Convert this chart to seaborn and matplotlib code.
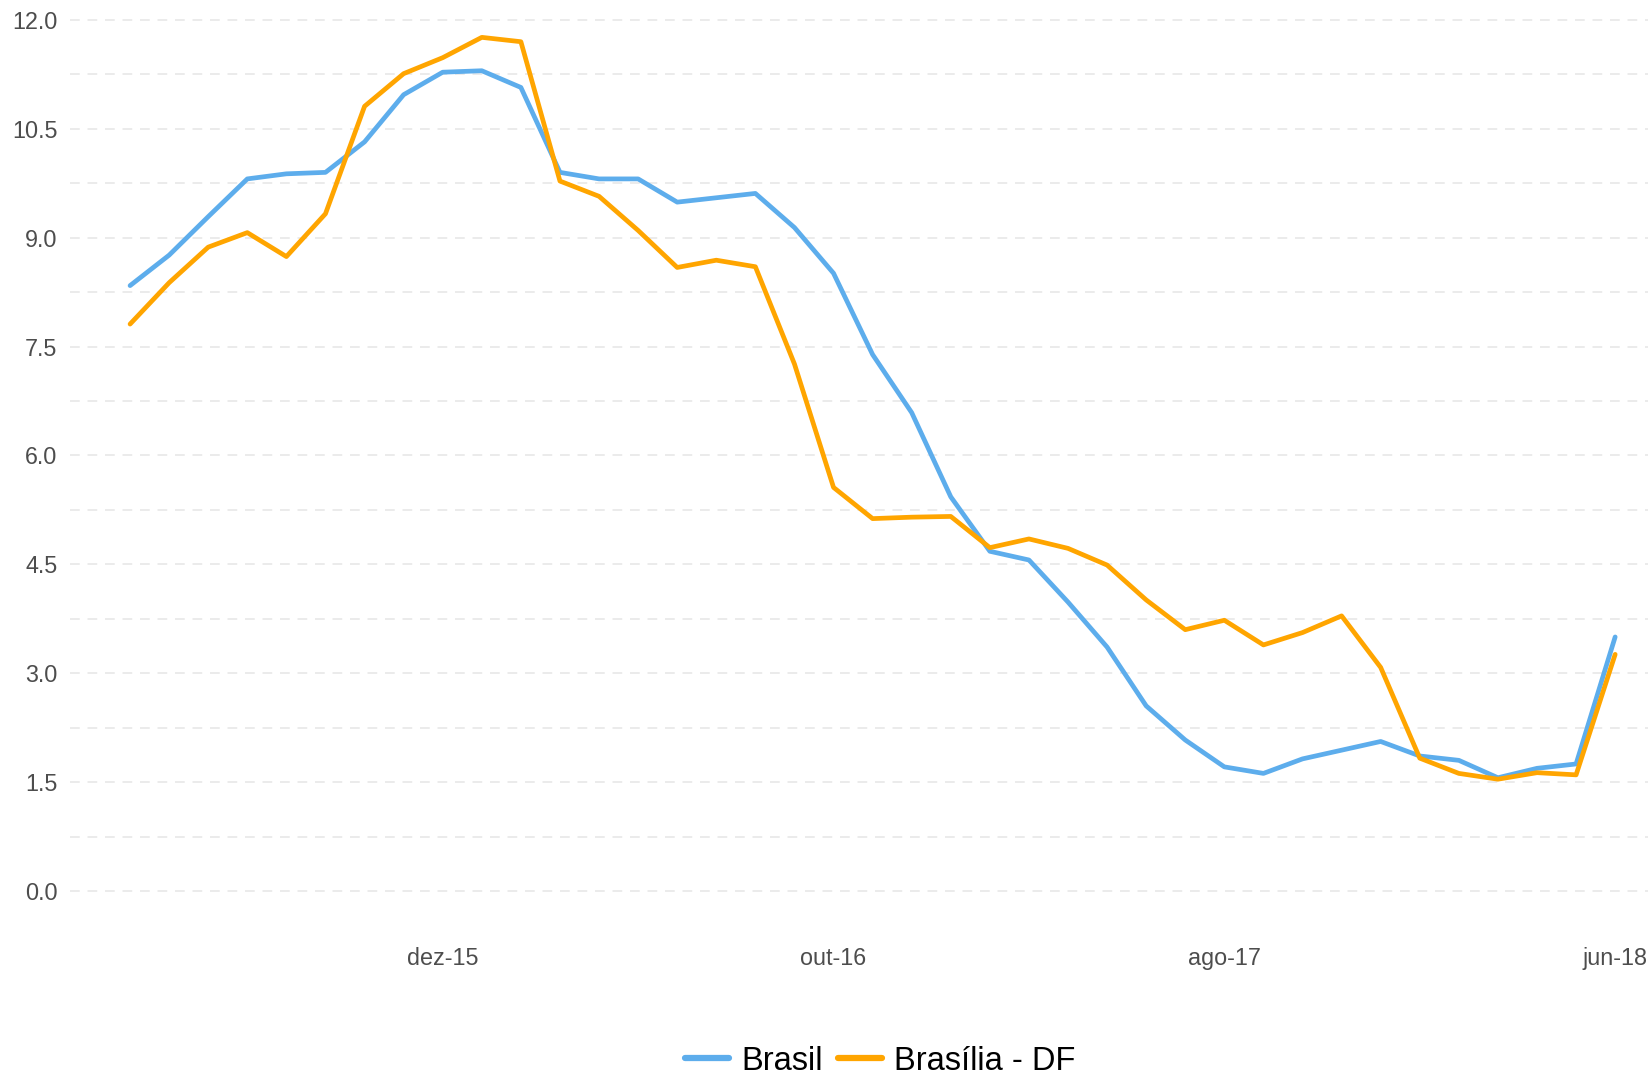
# Taxa acumulada: Brasil x Brasília - DF (abr-15 a jun-18)

import pandas as pd
import seaborn as sns
import matplotlib.pyplot as plt

#%% dados

meses = pd.date_range("2015-04-01", "2018-06-01", freq="MS").strftime("%Y-%m").tolist()

brasil = [8.34, 8.76, 9.29, 9.81, 9.88, 9.90, 10.32, 10.97, 11.28, 11.30,
          11.07, 9.90, 9.81, 9.81, 9.49, 9.55, 9.61, 9.14, 8.51, 7.39,
          6.59, 5.43, 4.68, 4.56, 3.98, 3.36, 2.55, 2.08, 1.71, 1.62,
          1.82, 1.94, 2.06, 1.86, 1.80, 1.56, 1.69, 1.75, 3.50]

brasilia_df = [7.81, 8.38, 8.87, 9.07, 8.74, 9.33, 10.81, 11.26, 11.48, 11.76,
               11.70, 9.78, 9.57, 9.10, 8.59, 8.69, 8.60, 7.26, 5.56, 5.13,
               5.15, 5.16, 4.73, 4.85, 4.72, 4.49, 4.01, 3.60, 3.73, 3.39,
               3.56, 3.79, 3.08, 1.83, 1.62, 1.54, 1.63, 1.60, 3.26]

series = ["Brasil", "Brasília - DF"]
cores = {"Brasil": "#5DADEC", "Brasília - DF": "#FFA500"}

ticks_meses = ["2015-12", "2016-10", "2017-08", "2018-06"]
ticks_labels = ["dez-15", "out-16", "ago-17", "jun-18"]
yticks = [0.0, 1.5, 3.0, 4.5, 6.0, 7.5, 9.0, 10.5, 12.0]

#%% tabela longa

df = pd.DataFrame({"mes": meses, "Brasil": brasil, "Brasília - DF": brasilia_df})
df["pos"] = range(len(df))
df_long = df.melt(id_vars=["mes", "pos"], value_vars=series, var_name="serie", value_name="valor")

#%% gráfico

sns.set_style("white")
plt.rcParams["font.family"] = ["Liberation Sans", "DejaVu Sans"]

fig = plt.figure(figsize=(16.49, 10.74), dpi=100)
ax = fig.add_axes([0.0425, 0.1366, 0.9576, 0.8516])

sns.lineplot(data=df_long, x="pos", y="valor", hue="serie", hue_order=series,
             palette=cores, linewidth=3.4, ax=ax, legend=False)

ax.set_xlim(-1.535, 38.87)
ax.set_ylim(-0.5, 12.1)

# grade horizontal tracejada (principais e secundárias)
for v in [i * 0.75 for i in range(17)]:
    ax.axhline(v, color="#EBEBEB", linewidth=1.4, linestyle=(0, (5, 4)), zorder=0)

pos_ticks = [meses.index(m) for m in ticks_meses]
ax.set_xticks(pos_ticks)
ax.set_xticklabels(ticks_labels)
ax.set_yticks(yticks)
ax.set_yticklabels([f"{v:.1f}" for v in yticks])
ax.tick_params(axis="both", length=0, labelsize=16.8, labelcolor="#4D4D4D")
ax.tick_params(axis="x", pad=14)
ax.tick_params(axis="y", pad=9)
ax.set_xlabel("")
ax.set_ylabel("")
for s in ax.spines.values():
    s.set_visible(False)

handles = [plt.Line2D([], [], color=cores[s], linewidth=4.5) for s in series]
fig.legend(handles, series, loc="center", bbox_to_anchor=(0.534, 0.012), ncol=2,
           frameon=False, fontsize=23.5, handlelength=1.35, handletextpad=0.38,
           columnspacing=0.45, labelcolor="black")

fig.savefig("out.png", dpi=100)
